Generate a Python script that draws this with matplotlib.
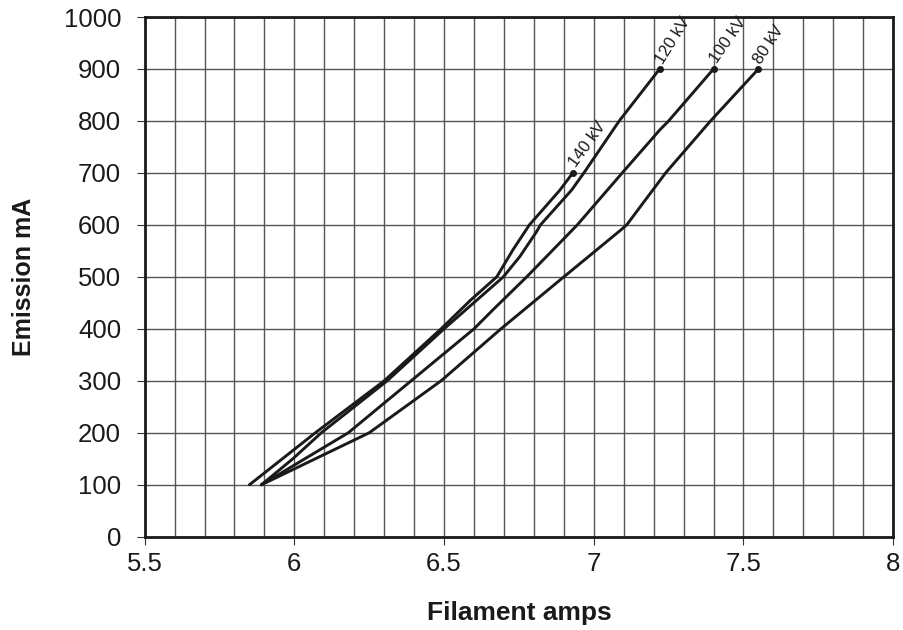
import matplotlib.pyplot as plt
from matplotlib.ticker import MultipleLocator, FuncFormatter

plt.rcParams['font.family'] = ['Liberation Sans', 'DejaVu Sans']

# emission (mA) against filament current
ma_140 = [100, 150, 200, 300, 400, 456, 500, 552, 600, 667, 700]
amps_140 = [5.85, 5.96, 6.07, 6.30, 6.49, 6.59, 6.676, 6.73, 6.785, 6.887, 6.93]

ma_120 = [100, 150, 200, 300, 400, 500, 539, 587, 600, 667, 700, 800, 900]
amps_120 = [5.89, 5.995, 6.09, 6.31, 6.50, 6.698, 6.753, 6.809, 6.822, 6.926, 6.967, 7.085, 7.22]

ma_100 = [100, 200, 300, 400, 437, 500, 600, 700, 783, 800, 900]
amps_100 = [5.89, 6.18, 6.39, 6.60, 6.664, 6.776, 6.945, 7.095, 7.221, 7.25, 7.40]

ma_80 = [100, 200, 300, 400, 500, 590, 600, 700, 800, 900]
amps_80 = [5.89, 6.25, 6.49, 6.69, 6.90, 7.09, 7.11, 7.24, 7.39, 7.55]

curves = [
    ("140 kV", amps_140, ma_140, 54),
    ("120 kV", amps_120, ma_120, 58),
    ("100 kV", amps_100, ma_100, 55),
    ("80 kV", amps_80, ma_80, 57),
]

fig = plt.figure(figsize=(9.04, 6.3), dpi=100)
ax = fig.add_axes([0.160, 0.148, 0.828, 0.825])

for label, xs, ys, rot in curves:
    ax.plot(xs, ys, color='#1a1a1a', linewidth=2.1, solid_joinstyle='round',
            solid_capstyle='round', zorder=3)
    ax.plot(xs[-1], ys[-1], 'o', color='#1a1a1a', markersize=4, zorder=4)
    ax.annotate(label, (xs[-1], ys[-1]), xytext=(4, 2), textcoords='offset points',
                rotation=rot, rotation_mode='anchor', ha='left', va='bottom',
                fontsize=12, color='#1a1a1a')

ax.set_xlim(5.5, 8)
ax.set_ylim(0, 1000)
ax.xaxis.set_major_locator(MultipleLocator(0.5))
ax.xaxis.set_minor_locator(MultipleLocator(0.1))
ax.yaxis.set_major_locator(MultipleLocator(100))
ax.xaxis.set_major_formatter(FuncFormatter(lambda v, p: f"{v:g}"))

ax.grid(which='both', axis='x', color='#555555', linewidth=1.0)
ax.grid(which='major', axis='y', color='#555555', linewidth=1.0)
ax.tick_params(axis='x', which='minor', length=0)
ax.tick_params(axis='both', which='major', labelsize=18.5, direction='out', length=6,
               color='#333333', labelcolor='#1a1a1a')
ax.tick_params(axis='y', pad=11)
ax.tick_params(axis='x', pad=5)
for s in ax.spines.values():
    s.set_linewidth(2)
    s.set_color('#1a1a1a')

ax.set_xlabel("Filament amps", fontsize=19, fontweight='bold', labelpad=18,
              color='#1a1a1a')
ax.set_ylabel("Emission mA", fontsize=18, fontweight='bold', labelpad=20,
              color='#1a1a1a')

fig.savefig("out.png", dpi=100)
